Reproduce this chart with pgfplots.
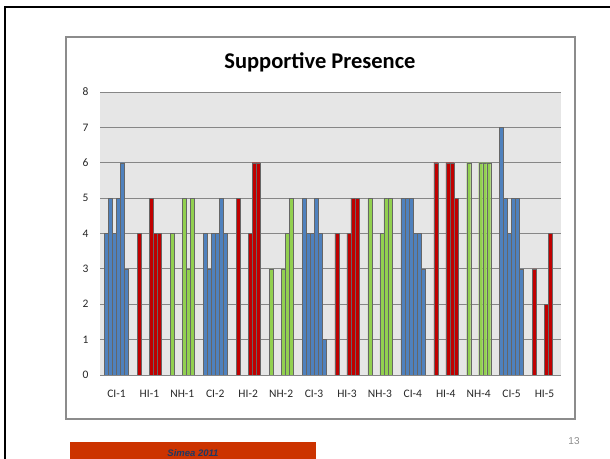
\documentclass[border=0pt]{standalone}
\usepackage{pgfplots}
\pgfplotsset{compat=1.18}
\usepackage{pgfplotstable}
\usepackage{fontspec}
\setmainfont{Carlito}
\newfontfamily\arialfont{Liberation Sans}

\definecolor{ciblue}{RGB}{79,129,189}
\definecolor{hired}{RGB}{192,0,0}
\definecolor{nhgreen}{RGB}{146,208,80}
\definecolor{plotbg}{RGB}{230,230,230}
\definecolor{gridgray}{RGB}{134,134,134}
\definecolor{boxgray}{RGB}{140,140,140}
\definecolor{footorange}{RGB}{204,51,0}
\definecolor{footnavy}{RGB}{31,56,100}

% x = category index, p1..p6 = the six bars of each cluster (nan = no bar)
\pgfplotstableread{
x  p1 p2 p3 p4 p5 p6
0  4  5  4  5  6  3
3  4  3  4  4  5  4
6  5  4  4  5  4  1
9  5  5  5  4  4  3
12 7  5  4  5  5  3
}\ci
\pgfplotstableread{
x  p1 p2  p3  p4 p5 p6
1  4  nan nan 5  4  4
4  5  nan nan 4  6  6
7  4  nan nan 4  5  5
10 6  nan nan 6  6  5
13 3  nan nan 2  4  nan
}\hi
\pgfplotstableread{
x  p1 p2  p3  p4 p5 p6
2  4  nan nan 5  3  5
5  3  nan nan 3  4  5
8  5  nan nan 4  5  5
11 6  nan nan 6  6  6
}\nh

\begin{document}
\begin{tikzpicture}
\path[use as bounding box] (0,0) rectangle (610bp,459bp);
% slide frame
\draw[line width=2.5bp] (5bp,0) -- (5bp,452bp) -- (610bp,452bp);
% chart area
\draw[boxgray, line width=1.2bp] (66bp,40bp) rectangle (575bp,422bp);
\node[font=\bfseries\fontsize{22.5bp}{26bp}\selectfont] at (320bp,397bp) {Supportive Presence};

\begin{axis}[
  at={(100bp,84bp)}, anchor=south west,
  scale only axis, width=461bp, height=283bp,
  xmin=-0.5, xmax=13.5, ymin=0, ymax=8,
  xtick={0,...,13},
  xticklabels={CI-1,HI-1,NH-1,CI-2,HI-2,NH-2,CI-3,HI-3,NH-3,CI-4,HI-4,NH-4,CI-5,HI-5},
  ytick={0,...,8},
  ymajorgrids, grid style={gridgray, line width=0.8bp},
  axis line style={draw=none},
  major tick length=0pt,
  axis background/.style={fill=plotbg},
  tick label style={font=\fontsize{11.5bp}{13bp}\selectfont, text=black!85},
  xticklabel style={yshift=-12bp},
  yticklabel style={xshift=-8bp},
  /pgf/number format/assume math mode=true,
]
\pgfplotsinvokeforeach{1,...,6}{
  \addplot[ybar, bar width=4bp, bar shift={(#1-3.5)*4bp}, fill=ciblue, draw=black!60, line width=0.35bp] table[x=x, y=p#1]{\ci};
  \addplot[ybar, bar width=4bp, bar shift={(#1-3.5)*4bp}, fill=hired, draw=black!60, line width=0.35bp] table[x=x, y=p#1]{\hi};
  \addplot[ybar, bar width=4bp, bar shift={(#1-3.5)*4bp}, fill=nhgreen, draw=black!60, line width=0.35bp] table[x=x, y=p#1]{\nh};
}
\end{axis}

% footer
\fill[footorange] (70bp,0) rectangle (316bp,17bp);
\node[font=\arialfont\bfseries\itshape\fontsize{9.5bp}{11bp}\selectfont, text=footnavy] at (193bp,6bp) {Simea 2011};
\node[font=\arialfont\fontsize{10bp}{11bp}\selectfont, text=black!45] at (574bp,18bp) {13};
\end{tikzpicture}
\end{document}
